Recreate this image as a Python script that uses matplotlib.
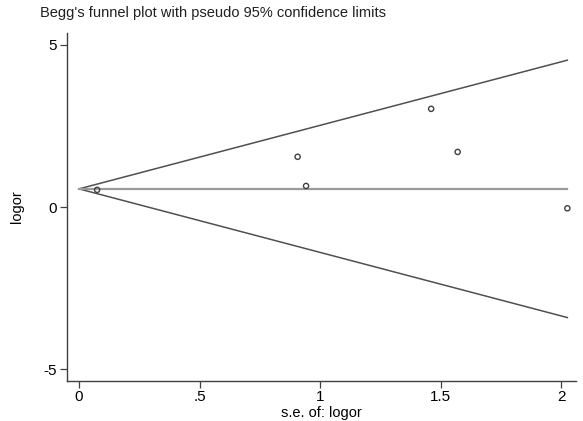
import matplotlib
matplotlib.use("Agg")
from matplotlib import pyplot as plt
import numpy as np

plt.rcParams['font.family'] = ['Liberation Sans', 'DejaVu Sans']
plt.rcParams['axes.unicode_minus'] = False

# study data: standard error and log odds ratio
se = [0.075, 0.907, 0.942, 1.461, 1.571, 2.026]
logor = [0.53, 1.55, 0.65, 3.03, 1.70, -0.04]
theta = 0.56  # pooled estimate

xticks = [0, 0.5, 1, 1.5, 2]
xticklabels = ['0', '.5', '1', '1.5', '2']
yticks = [-5, 0, 5]

fig = plt.figure(figsize=(5.83, 4.21), dpi=100)
ax = fig.add_axes([0.1149, 0.0957, 0.8731, 0.8259])

se_max = max(se)
s = np.array([0, se_max])
ax.plot(s, theta + 1.96 * s, color='#505050', lw=1.1)
ax.plot(s, theta - 1.96 * s, color='#505050', lw=1.1)
ax.plot(s, [theta, theta], color='#9a9a9a', lw=1.6)
ax.scatter(se, logor, s=14, facecolors='none', edgecolors='#404040', linewidths=1.0, zorder=3)

ax.set_xlim(-0.05, 2.062)
ax.set_ylim(-5.36, 5.37)
ax.set_xticks(xticks)
ax.set_xticklabels(xticklabels)
ax.set_yticks(yticks)
ax.tick_params(labelsize=11, length=5, width=0.9, color='#404040', pad=2)
for side in ['top', 'right']:
    ax.spines[side].set_visible(False)
for side in ['left', 'bottom']:
    ax.spines[side].set_color('#404040')
    ax.spines[side].set_linewidth(1.0)

ax.set_xlabel('s.e. of: logor', fontsize=10.5, labelpad=1)
ax.set_ylabel('logor', fontsize=10.5, labelpad=14)

fig.text(40 / 583, 1 - 13 / 421, "Begg's funnel plot with pseudo 95% confidence limits",
         fontsize=10.5, va='center', ha='left', color='#202020')

plt.savefig('out.png', dpi=100)
